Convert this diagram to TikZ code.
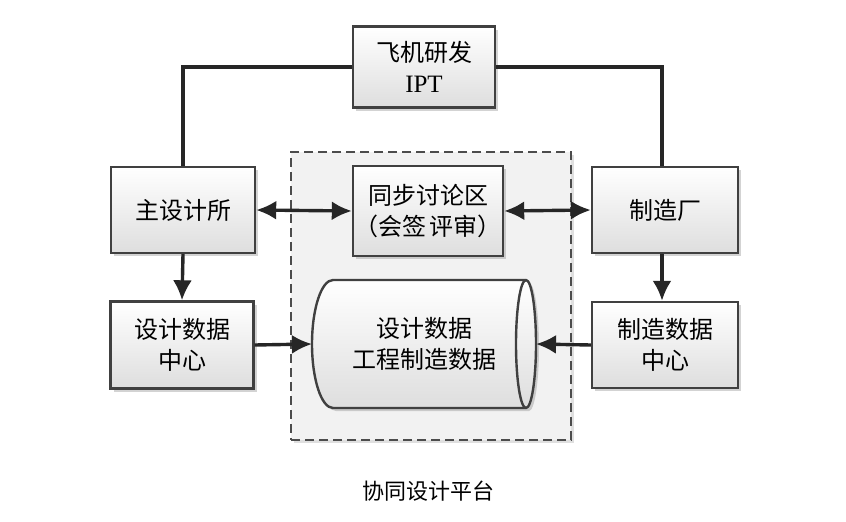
\documentclass[tikz,border=0pt]{standalone}
\usepackage{fontspec}
\setmainfont{Liberation Serif}
\newfontfamily\cjk{Noto Sans CJK SC}
\usetikzlibrary{arrows.meta,shadows,positioning}
\tikzset{
  boxnode/.style={draw=black!75, line width=2.4pt, top color=white, bottom color=black!13,
    drop shadow={shadow xshift=3pt, shadow yshift=-3pt, opacity=0.35},
    align=center, font=\cjk\fontsize{24}{31}\selectfont, inner sep=0pt},
  conn/.style={line width=3.4pt, black!85},
  arr/.style={conn, -{Latex[length=20pt,width=19pt]}},
  darr/.style={conn, {Latex[length=20pt,width=19pt]}-{Latex[length=20pt,width=19pt]}},
}
\begin{document}
\begin{tikzpicture}[x=1pt,y=-1pt]
\useasboundingbox (0,0) rectangle (846,522);
% dashed platform region
\node[draw=black!70, dash pattern=on 9pt off 5pt, line width=2.4pt, fill=black!5, minimum width=280pt, minimum height=288pt,
  drop shadow={shadow xshift=3pt, shadow yshift=-3pt, opacity=0.25}] (plat) at (431,296) {};
% boxes
\node[boxnode, minimum width=142pt, minimum height=81pt] (ipt) at (424,67) {飞机研发\\{\rmfamily\fontsize{25}{31}\selectfont IPT}};
\node[boxnode, minimum width=144pt, minimum height=86pt] (zhu) at (183,210) {主设计所};
\node[boxnode, minimum width=143pt, minimum height=87pt] (zsj) at (182,345) {设计数据\\中心};
\node[boxnode, minimum width=150pt, minimum height=90pt] (tb) at (428,211) {同步讨论区\\（会签\,评审）};
\node[boxnode, minimum width=146pt, minimum height=86pt] (zz) at (665,210) {制造厂};
\node[boxnode, minimum width=146pt, minimum height=86pt] (zzsj) at (665,345) {制造数据\\中心};
% cylinder
\path[draw=black!75, line width=2.4pt, top color=white, bottom color=black!13,
  drop shadow={shadow xshift=3pt, shadow yshift=-3pt, opacity=0.35}]
  (333,280) -- (526,280) arc[start angle=90, end angle=-90, x radius=10pt, y radius=64pt]
  -- (333,408) arc[start angle=-90, end angle=-270, x radius=21pt, y radius=64pt] -- cycle;
\draw[black!75, line width=2.4pt] (526,280) arc[start angle=90, end angle=270, x radius=10pt, y radius=64pt];
\coordinate (cylL) at (312,344);
\coordinate (cylR) at (536,344);
\node[font=\cjk\fontsize{24}{31}\selectfont, align=center] (cyltext) at (424,344) {设计数据\\工程制造数据};
% connectors
\draw[conn] (ipt.west) -| (zhu.north);
\draw[conn] (ipt.east) -| ([xshift=-3pt]zz.north);
\draw[darr] (zhu.east) -- (tb.west);
\draw[darr] (tb.east) -- (zz.west);
\draw[arr] (zhu.south) -- (zsj.north);
\draw[arr] ([xshift=-3pt]zz.south) -- ([xshift=-3pt]zzsj.north);
\draw[arr] (zsj.east) -- (cylL);
\draw[arr] (zzsj.west) -- (cylR);
% caption
\node[font=\cjk\fontsize{22}{28}\selectfont] (cap) at (428,491) {协同设计平台};
\end{tikzpicture}
\end{document}
